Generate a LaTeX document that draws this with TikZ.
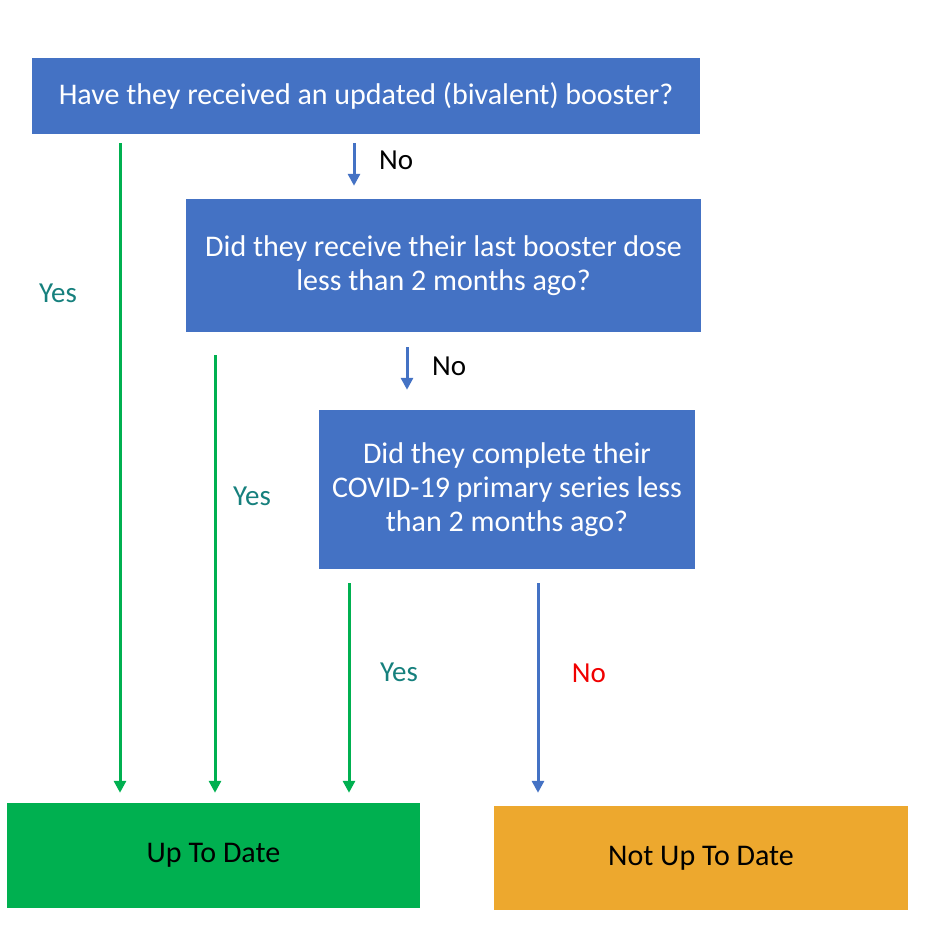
\documentclass[tikz,border=0pt]{standalone}
\usepackage{fontspec}
\setmainfont{Carlito}
\usetikzlibrary{arrows.meta, positioning}
\definecolor{qblue}{HTML}{4472C4}
\definecolor{okgreen}{HTML}{00B050}
\definecolor{lategold}{HTML}{EDA82E}
\definecolor{yesteal}{HTML}{16807D}
\definecolor{nored}{HTML}{F00000}

\begin{document}
\begin{tikzpicture}[x=1pt, y=-1pt, >={Triangle[length=12pt, width=12pt]}]
    \tikzset{question/.style={fill=qblue, text=white, inner sep=0pt, align=center, font=\fontsize{30}{34}\selectfont},
        result/.style={inner sep=0pt, text=black, font=\fontsize{30}{34}\selectfont},
        yesline/.style={draw=okgreen, line width=3pt, ->},
        noline/.style={draw=qblue, line width=3pt, ->},
        lbl/.style={inner sep=0pt, font=\fontsize{29}{34}\selectfont}
    }
    \useasboundingbox (0,0) rectangle (936,943);

    % questions and outcomes
    \node (Q1) [question, minimum width=668pt, minimum height=76pt] at (366, 96) {Have they received an updated (bivalent) booster?};
    \node (Q2) [question, minimum width=515pt, minimum height=133pt] at (443.5, 265.5) {Did they receive their last booster dose\\less than 2 months ago?};
    \node (Q3) [question, minimum width=376pt, minimum height=159pt] at (507, 489.5) {Did they complete their\\COVID-19 primary series less\\than 2 months ago?};
    \node (Done) [result, fill=okgreen, minimum width=413pt, minimum height=105pt] at (213.5, 855.5) {Up To Date};
    \node (NotDone) [result, fill=lategold, minimum width=414pt, minimum height=104pt] at (701, 858) {Not Up To Date};

    % columns of the connectors
    \coordinate (colA) at (120, 0);
    \coordinate (colB) at (215, 0);
    \coordinate (colC) at (349, 0);
    \coordinate (colD) at (538, 0);
    \coordinate (colE) at (354, 0);
    \coordinate (colF) at (407, 0);

    \draw [noline, shorten <=9pt, shorten >=13pt] (Q1.south -| colE) -- (Q2.north -| colE);
    \draw [noline, shorten <=15pt, shorten >=20pt] (Q2.south -| colF) -- (Q3.north -| colF);
    \draw [yesline, shorten <=9pt, shorten >=10pt] (Q1.south -| colA) -- (Done.north -| colA);
    \draw [yesline, shorten <=23pt, shorten >=10pt] (Q2.south -| colB) -- (Done.north -| colB);
    \draw [yesline, shorten <=14pt, shorten >=10pt] (Q3.south -| colC) -- (Done.north -| colC);
    \draw [noline, shorten <=14pt, shorten >=13pt] (Q3.south -| colD) -- (NotDone.north -| colD);

    % labels
    \node (No1) [lbl, anchor=west] at (379, 160) {No};
    \node (No2) [lbl, anchor=west] at (432, 366) {No};
    \node (Yes1) [lbl, text=yesteal] at (58, 293) {Yes};
    \node (Yes2) [lbl, text=yesteal] at (252, 496) {Yes};
    \node (Yes3) [lbl, text=yesteal] at (399, 672) {Yes};
    \node (No3) [lbl, text=nored] at (589, 673) {No};
\end{tikzpicture}
\end{document}
